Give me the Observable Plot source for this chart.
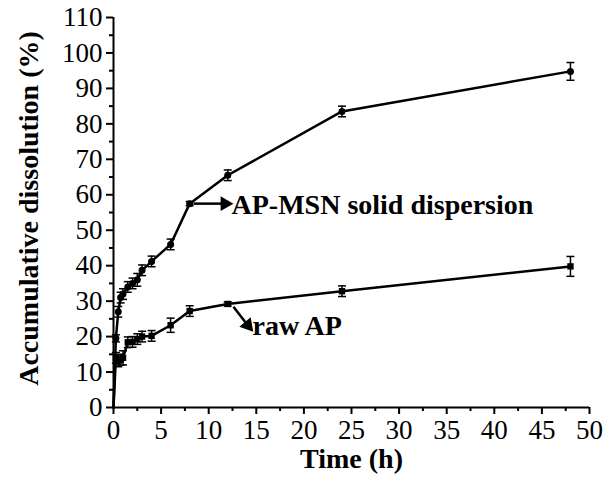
<!DOCTYPE html>
<html>
<head>
<meta charset="utf-8">
<script src="https://cdn.jsdelivr.net/npm/d3@7"></script>
<script src="https://cdn.jsdelivr.net/npm/@observablehq/plot@0.6"></script>
<style>
  html, body { margin: 0; padding: 0; background: #fff; }
</style>
</head>
<body>
<div id="chart"></div>
<script>
const time   = [0, 0.25, 0.5, 0.75, 1, 1.5, 2, 2.5, 3, 4, 6, 8, 12, 24, 48];
const msn    = [0, 19.5, 27, 31, 32, 34, 35, 36, 38.7, 41.2, 46, 57.5, 65.5, 83.5, 94.8];
const msnErr = [0, 1, 1.5, 1.5, 1.5, 1.5, 1.5, 1.8, 1.5, 1.5, 1.5, 0.6, 1.5, 1.5, 2.5];
const raw    = [0, 14, 13, 13.5, 14, 18.4, 18.5, 19.3, 20, 20.2, 23.2, 27.2, 29.2, 32.8, 39.8];
const rawErr = [0, 1.5, 1.5, 1.5, 2, 1.5, 1.5, 1.5, 1.5, 1.5, 2, 1.5, 0.6, 1.5, 2.8];

const xTicks = d3.range(0, 51, 5);
const xMinor = d3.range(2.5, 50, 5);
const yTicks = d3.range(0, 111, 10);
const yMinor = d3.range(5, 110, 10);

const labels = [
  {text: "AP-MSN solid dispersion", x: 12.4, y: 57},
  {text: "raw AP", x: 14.6, y: 23}
];
const arrows = [
  {x1: 8.4, y1: 57.5, x2: 11.7, y2: 57.5, rotate: 90},
  {x1: 12.6, y1: 28.4, x2: 14.1, y2: 23.2, rotate: 140}
];

const msnData = time.map((t, i) => ({t, v: msn[i], e: msnErr[i]}));
const rawData = time.map((t, i) => ({t, v: raw[i], e: rawErr[i]}));
const errData = [...msnData, ...rawData].filter(d => d.e > 0);
const caps = errData.flatMap(d => [{t: d.t, v: d.v - d.e}, {t: d.t, v: d.v + d.e}]);

const capSymbol = {draw(ctx) { ctx.moveTo(-4, 0); ctx.lineTo(4, 0); }};
const font = "Liberation Serif, DejaVu Serif, Noto Serif, serif";

const chart = Plot.plot({
  width: 605, height: 483,
  marginLeft: 113, marginRight: 16, marginTop: 17, marginBottom: 76,
  x: {domain: [0, 50]},
  y: {domain: [0, 110]},
  style: {fontFamily: font, fontSize: "27px", color: "black", background: "white"},
  marks: [
    Plot.axisX({ticks: xMinor, tickSize: 4, tickFormat: () => "", label: null, strokeWidth: 2}),
    Plot.axisX({ticks: xTicks, tickSize: 7, tickPadding: 5, fontSize: 27, fontFamily: font, label: null, strokeWidth: 2}),
    Plot.axisY({ticks: yMinor, tickSize: 4, tickFormat: () => "", label: null, strokeWidth: 2}),
    Plot.axisY({ticks: yTicks, tickSize: 7, tickPadding: 4, fontSize: 27, fontFamily: font, label: null, strokeWidth: 2}),
    Plot.ruleX([0], {strokeWidth: 2}),
    Plot.ruleY([0], {strokeWidth: 2}),
    Plot.text(["Time (h)"], {frameAnchor: "bottom", text: d => d, dy: 60, fontWeight: "bold", fontSize: 28, fontFamily: font, textAnchor: "middle"}),
    Plot.text(["Accumulative dissolution (%)"], {frameAnchor: "left", text: d => d, dx: -84, dy: -4, rotate: -90, textAnchor: "middle", fontWeight: "bold", fontSize: 28, fontFamily: font}),
    Plot.ruleX(errData, {x: "t", y1: d => d.v - d.e, y2: d => d.v + d.e, strokeWidth: 1.5}),
    Plot.dot(caps, {x: "t", y: "v", symbol: capSymbol, stroke: "black", strokeWidth: 1.5}),
    Plot.line(msnData, {x: "t", y: "v", strokeWidth: 2.5}),
    Plot.line(rawData, {x: "t", y: "v", strokeWidth: 2.5}),
    Plot.dot(msnData.slice(1), {x: "t", y: "v", r: 3.5, fill: "black"}),
    Plot.dot(rawData.slice(1), {x: "t", y: "v", symbol: "square", r: 3.6, fill: "black"}),
    Plot.link(arrows, {x1: "x1", y1: "y1", x2: "x2", y2: "y2", strokeWidth: 2.5}),
    Plot.dot(arrows, {x: "x2", y: "y2", symbol: "triangle", r: 5.5, fill: "black", rotate: "rotate"}),
    Plot.text(labels, {x: "x", y: "y", text: "text", textAnchor: "start", fontWeight: "bold", fontSize: 28, fontFamily: font})
  ]
});
document.getElementById("chart").appendChild(chart);
</script>
</body>
</html>
